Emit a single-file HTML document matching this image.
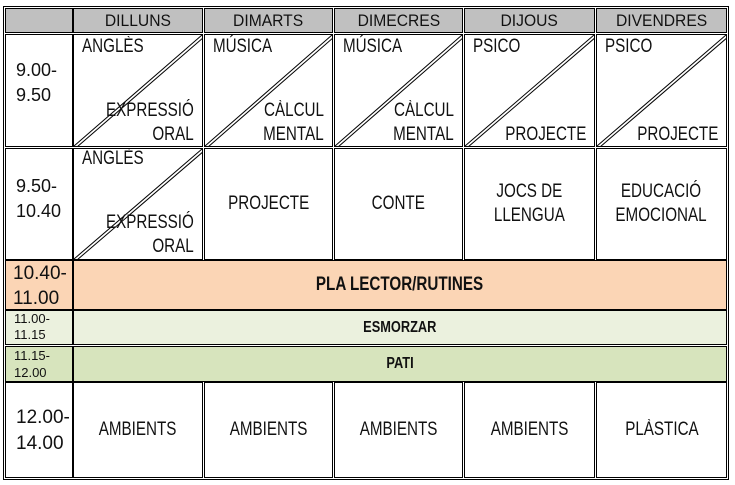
<!DOCTYPE html>
<html><head><meta charset="utf-8"><style>
body{margin:0;width:735px;height:485px;background:#fff;position:relative;overflow:hidden;font-family:"Liberation Sans",Arimo,Arial,sans-serif;}
.o{position:absolute;left:3px;top:6px;width:726px;height:474px;border:1px solid #000;box-sizing:border-box;}
.c{position:absolute;border:1px solid #000;box-sizing:border-box;overflow:hidden;}
.t{position:absolute;font-size:19px;line-height:24px;color:#111;white-space:nowrap;}
.n{display:inline-block;transform:scaleX(.8);white-space:nowrap;}
.l .n{transform-origin:left center}
.r .n{transform-origin:right center}
.ctr{position:absolute;left:-20px;right:-20px;top:0;bottom:0;display:flex;align-items:center;justify-content:center;text-align:center;font-size:19px;line-height:24px;color:#111;}
.h{background:#c0c0c0;}
.h .ctr{font-size:17px}
.h .n{transform:scaleX(.92)}
.tm{font-size:18px;line-height:25px;left:10px;}
svg{position:absolute;left:0;top:0;}
</style></head><body>
<div class="o"></div>
<div class="c h" style="left:5px;top:8px;width:68px;height:25px"></div>
<div class="c h" style="left:73px;top:8px;width:130px;height:25px"><div class="ctr"><span class="n">DILLUNS</span></div></div>
<div class="c h" style="left:204px;top:8px;width:129px;height:25px"><div class="ctr"><span class="n">DIMARTS</span></div></div>
<div class="c h" style="left:334px;top:8px;width:129px;height:25px"><div class="ctr"><span class="n">DIMECRES</span></div></div>
<div class="c h" style="left:464px;top:8px;width:131px;height:25px"><div class="ctr"><span class="n">DIJOUS</span></div></div>
<div class="c h" style="left:596px;top:8px;width:131px;height:25px"><div class="ctr"><span class="n">DIVENDRES</span></div></div>

<div class="c" style="left:5px;top:34px;width:68px;height:113px"><div class="t tm" style="top:23px">9.00-<br>9.50</div></div>
<div class="c" style="left:73px;top:34px;width:130px;height:113px">
<svg width="130" height="113"><line x1="0" y1="111" x2="128" y2="0" stroke="#000"/><line x1="3" y1="112" x2="130" y2="2" stroke="#000"/></svg>
<div class="t l" style="left:8px;top:0px"><span class="n">ANGLÈS</span></div>
<div class="t r" style="right:8px;top:64px;text-align:right"><span class="n">EXPRESSIÓ</span><br><span class="n">ORAL</span></div></div>
<div class="c" style="left:204px;top:34px;width:129px;height:113px">
<svg width="129" height="113"><line x1="0" y1="111" x2="127" y2="0" stroke="#000"/><line x1="3" y1="112" x2="129" y2="2" stroke="#000"/></svg>
<div class="t l" style="left:8px;top:0px"><span class="n">MÚSICA</span></div>
<div class="t r" style="right:8px;top:64px;text-align:right"><span class="n">CÀLCUL</span><br><span class="n">MENTAL</span></div></div>
<div class="c" style="left:334px;top:34px;width:129px;height:113px">
<svg width="129" height="113"><line x1="0" y1="111" x2="127" y2="0" stroke="#000"/><line x1="3" y1="112" x2="129" y2="2" stroke="#000"/></svg>
<div class="t l" style="left:8px;top:0px"><span class="n">MÚSICA</span></div>
<div class="t r" style="right:8px;top:64px;text-align:right"><span class="n">CÀLCUL</span><br><span class="n">MENTAL</span></div></div>
<div class="c" style="left:464px;top:34px;width:131px;height:113px">
<svg width="131" height="113"><line x1="0" y1="111" x2="129" y2="0" stroke="#000"/><line x1="3" y1="112" x2="131" y2="2" stroke="#000"/></svg>
<div class="t l" style="left:8px;top:0px"><span class="n">PSICO</span></div>
<div class="t r" style="right:8px;top:88px;text-align:right"><span class="n">PROJECTE</span></div></div>
<div class="c" style="left:596px;top:34px;width:131px;height:113px">
<svg width="131" height="113"><line x1="0" y1="111" x2="129" y2="0" stroke="#000"/><line x1="3" y1="112" x2="131" y2="2" stroke="#000"/></svg>
<div class="t l" style="left:8px;top:0px"><span class="n">PSICO</span></div>
<div class="t r" style="right:8px;top:88px;text-align:right"><span class="n">PROJECTE</span></div></div>

<div class="c" style="left:5px;top:148px;width:68px;height:112px"><div class="t tm" style="top:25px">9.50-<br>10.40</div></div>
<div class="c" style="left:73px;top:148px;width:130px;height:112px">
<svg width="130" height="112"><line x1="0" y1="110" x2="128" y2="0" stroke="#000"/><line x1="3" y1="111" x2="130" y2="2" stroke="#000"/></svg>
<div class="t l" style="left:8px;top:-2px"><span class="n">ANGLÈS</span></div>
<div class="t r" style="right:8px;top:62px;text-align:right"><span class="n">EXPRESSIÓ</span><br><span class="n">ORAL</span></div></div>
<div class="c" style="left:204px;top:148px;width:129px;height:112px"><div class="ctr"><span class="n">PROJECTE</span></div></div>
<div class="c" style="left:334px;top:148px;width:129px;height:112px"><div class="ctr"><span class="n">CONTE</span></div></div>
<div class="c" style="left:464px;top:148px;width:131px;height:112px"><div class="ctr"><span class="n">JOCS DE<br>LLENGUA</span></div></div>
<div class="c" style="left:596px;top:148px;width:131px;height:112px"><div class="ctr"><span class="n">EDUCACIÓ<br>EMOCIONAL</span></div></div>

<div class="c" style="left:5px;top:260px;width:68px;height:50px;background:#fbd5b5"><div class="t" style="top:0px;left:7px;font-size:19px;line-height:25px">10.40-<br>11.00</div></div>
<div class="c" style="left:73px;top:260px;width:654px;height:50px;background:#fbd5b5"><div class="ctr" style="font-weight:bold"><span class="n">PLA LECTOR/RUTINES</span></div></div>

<div class="c" style="left:5px;top:310px;width:68px;height:35px;background:#ebf1de"><div class="t" style="left:8px;top:0px;font-size:13px;line-height:16px">11.00-<br>11.15</div></div>
<div class="c" style="left:73px;top:310px;width:654px;height:35px;background:#ebf1de"><div class="ctr" style="font-weight:bold;font-size:16px"><span class="n">ESMORZAR</span></div></div>

<div class="c" style="left:5px;top:346px;width:68px;height:36px;background:#d7e4bd"><div class="t" style="left:8px;top:0px;font-size:13px;line-height:17px">11.15-<br>12.00</div></div>
<div class="c" style="left:73px;top:346px;width:654px;height:36px;background:#d7e4bd"><div class="ctr" style="font-weight:bold;font-size:16px"><span class="n">PATI</span></div></div>

<div class="c" style="left:5px;top:382px;width:68px;height:96px"><div class="t" style="left:10px;top:22px;font-size:19px;line-height:26px">12.00-<br>14.00</div></div>
<div class="c" style="left:73px;top:382px;width:130px;height:96px"><div class="ctr"><span class="n">AMBIENTS</span></div></div>
<div class="c" style="left:204px;top:382px;width:129px;height:96px"><div class="ctr"><span class="n">AMBIENTS</span></div></div>
<div class="c" style="left:334px;top:382px;width:129px;height:96px"><div class="ctr"><span class="n">AMBIENTS</span></div></div>
<div class="c" style="left:464px;top:382px;width:131px;height:96px"><div class="ctr"><span class="n">AMBIENTS</span></div></div>
<div class="c" style="left:596px;top:382px;width:131px;height:96px"><div class="ctr"><span class="n">PLÀSTICA</span></div></div>
</body></html>
